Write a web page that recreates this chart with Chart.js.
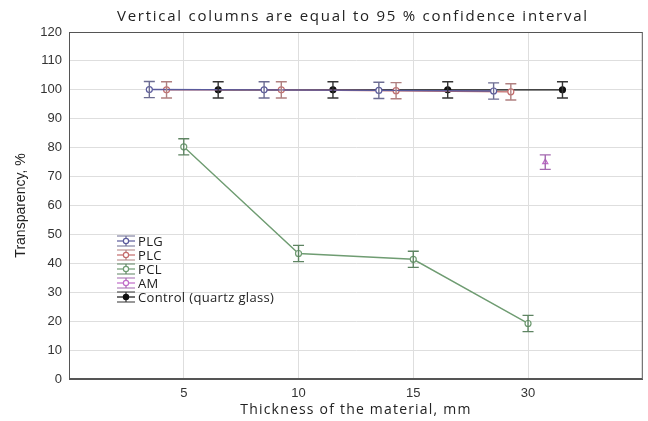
<!DOCTYPE html>
<html>
<head>
<meta charset="utf-8">
<script src="https://cdn.jsdelivr.net/npm/chart.js"></script>
<style>
  html, body { margin: 0; padding: 0; background: #fff; }
  #wrap { width: 648px; height: 421px; }
</style>
</head>
<body>
<div id="wrap"><canvas id="chart" width="648" height="421"></canvas></div>
<script>
// == Data ==
const categories = ["5", "10", "15", "30"];
const yTicks = [0, 10, 20, 30, 40, 50, 60, 70, 80, 90, 100, 110, 120];

const plgValues = [100.1, 100.0, 99.8, 99.6];
const plgErrors = [2.8, 2.8, 2.8, 2.8];
const plcValues = [100.0, 100.0, 99.7, 99.3];
const plcErrors = [2.8, 2.8, 2.8, 2.8];
const pclValues = [80.3, 43.4, 41.4, 19.2];
const pclErrors = [2.8, 2.8, 2.8, 2.8];
const amValues = [null, null, null, 75.0];
const amErrors = [null, null, null, 2.5];
const controlValues = [100.0, 100.0, 100.0, 100.0];
const controlErrors = [2.8, 2.8, 2.8, 2.8];

const chartTitle = "Vertical columns are equal to 95 % confidence interval";
const xTitle = "Thickness of the material, mm";
const yTitle = "Transparency, %";

// == Styles (position offsets within a category, colours, markers) ==
const series = [
  { label: "PLG", values: plgValues, errors: plgErrors, offset: -0.30, color: "#5a5a9c", errColor: "#6c6c92", point: "circle", fill: "#fff" },
  { label: "PLC", values: plcValues, errors: plcErrors, offset: -0.15, color: "#c46c6c", errColor: "#b08080", point: "circle", fill: "#fff" },
  { label: "PCL", values: pclValues, errors: pclErrors, offset: 0, color: "#6f9c72", errColor: "#5e8462", point: "circle", fill: "#fff" },
  { label: "AM", values: amValues, errors: amErrors, offset: 0.15, color: "#c06cc8", errColor: "#a468b0", point: "triangle", fill: "#fff" },
  { label: "Control (quartz glass)", values: controlValues, errors: controlErrors, offset: 0.30, color: "#111", errColor: "#333", point: "circle", fill: "#111" }
];

const TEXT_FONT = "'Open Sans', sans-serif";
const TICK_FONT = "'Liberation Sans', Arial, sans-serif";

function toPoints(s) {
  const pts = [];
  s.values.forEach((v, i) => {
    if (v !== null) pts.push({ x: i + 1 + s.offset, y: v, err: s.errors[i] });
  });
  return pts;
}

// spaced text, centred on x
function spacedText(ctx, text, x, y, font, spacing) {
  ctx.save();
  ctx.font = font;
  ctx.fillStyle = "#222";
  ctx.textBaseline = "middle";
  ctx.textAlign = "center";
  ctx.letterSpacing = spacing + "px";
  ctx.fillText(text, x, y);
  ctx.restore();
}

// == Error bars plugin ==
const errorBars = {
  id: "errorBars",
  afterDatasetsDraw(chart) {
    const ctx = chart.ctx;
    const xs = chart.scales.x, ys = chart.scales.y;
    chart.data.datasets.forEach((ds, di) => {
      ctx.save();
      ctx.strokeStyle = series[di].errColor;
      ctx.lineWidth = 1.4;
      ds.data.forEach(p => {
        const x = xs.getPixelForValue(p.x);
        const top = ys.getPixelForValue(p.y + p.err);
        const bot = ys.getPixelForValue(p.y - p.err);
        ctx.beginPath();
        ctx.moveTo(x, top); ctx.lineTo(x, bot);
        ctx.moveTo(x - 5.5, top); ctx.lineTo(x + 5.5, top);
        ctx.moveTo(x - 5.5, bot); ctx.lineTo(x + 5.5, bot);
        ctx.stroke();
      });
      ctx.restore();
    });
  }
};

// == Legend inside plot + titles ==
const annotations = {
  id: "annotations",
  afterDraw(chart) {
    const ctx = chart.ctx;
    const a = chart.chartArea;
    const x0 = 117, y0 = 241, step = 14;
    ctx.save();
    series.forEach((s, i) => {
      const y = y0 + i * step;
      ctx.strokeStyle = s.errColor;
      ctx.lineWidth = 1.2;
      ctx.beginPath();
      ctx.moveTo(x0, y - 5); ctx.lineTo(x0 + 18, y - 5);
      ctx.moveTo(x0, y + 5); ctx.lineTo(x0 + 18, y + 5);
      ctx.moveTo(x0 + 9, y - 5); ctx.lineTo(x0 + 9, y + 5);
      ctx.stroke();
      ctx.strokeStyle = s.color;
      ctx.beginPath();
      ctx.moveTo(x0, y); ctx.lineTo(x0 + 18, y);
      ctx.stroke();
      ctx.fillStyle = s.fill;
      ctx.beginPath();
      ctx.arc(x0 + 9, y, 2.6, 0, Math.PI * 2);
      ctx.fill(); ctx.stroke();
      ctx.fillStyle = "#222";
      ctx.font = "13px " + TEXT_FONT;
      ctx.letterSpacing = "0.35px";
      ctx.textBaseline = "middle";
      ctx.fillText(s.label, x0 + 21, y + 1);
    });
    ctx.restore();

    // frame
    ctx.save();
    ctx.strokeStyle = "#555";
    ctx.lineWidth = 1;
    ctx.strokeRect(a.left + 0.5, a.top + 0.5, a.right - a.left - 1, a.bottom - a.top - 1);
    ctx.restore();

    const cx = (a.left + a.right) / 2 - 3;
    spacedText(ctx, chartTitle, cx, 17, "15px " + TEXT_FONT, 1.75);
    spacedText(ctx, xTitle, cx + 3, 410, "14px " + TEXT_FONT, 1.2);
  }
};

// == Chart ==
new Chart(document.getElementById("chart").getContext("2d"), {
  type: "line",
  data: {
    datasets: series.map(s => ({
      label: s.label,
      data: toPoints(s),
      borderColor: s.color,
      backgroundColor: s.fill,
      borderWidth: 1.4,
      pointStyle: s.point,
      pointRadius: 3,
      pointBorderWidth: 1.2,
      pointBackgroundColor: s.fill,
      pointBorderColor: s.color,
      tension: 0
    }))
  },
  options: {
    responsive: false,
    animation: false,
    events: [],
    layout: { padding: { left: 9, right: 2, top: 32, bottom: 0 } },
    plugins: {
      legend: { display: false },
      tooltip: { enabled: false },
      title: { display: false }
    },
    scales: {
      x: {
        type: "linear",
        min: 0,
        max: 5,
        afterBuildTicks: s => { s.ticks = categories.map((c, i) => ({ value: i + 1 })); },
        afterFit: s => { s.height = 42; },
        ticks: {
          callback: v => categories[v - 1],
          color: "#333",
          font: { family: TICK_FONT, size: 13 },
          padding: 7,
          maxRotation: 0
        },
        grid: { color: "#dedede", drawTicks: false },
        border: { display: true, color: "#555", width: 1 }
      },
      y: {
        min: 0,
        max: 120,
        afterBuildTicks: s => { s.ticks = yTicks.map(v => ({ value: v })); },
        afterFit: s => { s.width = 60; },
        ticks: {
          color: "#333",
          font: { family: TICK_FONT, size: 13 },
          padding: 7
        },
        grid: { color: "#dedede", drawTicks: false },
        border: { display: true, color: "#555", width: 1 },
        title: {
          display: true,
          text: yTitle,
          color: "#222",
          font: { family: TICK_FONT, size: 14 },
          padding: { top: 4, bottom: 0 }
        }
      }
    }
  },
  plugins: [errorBars, annotations]
});
</script>
</body>
</html>
